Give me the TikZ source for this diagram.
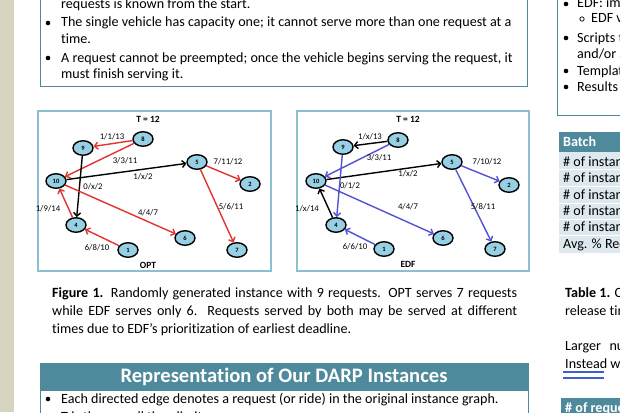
\documentclass[tikz,border=0pt]{standalone}
\usepackage{fontspec}
\setmainfont{Carlito}[Ligatures={NoCommon}]
\usetikzlibrary{arrows.meta,shapes.geometric}
\definecolor{tealbd}{HTML}{4F8A9C}
\definecolor{tealbar}{HTML}{4E8A9B}
\definecolor{figbd}{HTML}{8CBFCF}
\definecolor{nodefill}{HTML}{97D0E4}
\definecolor{redE}{HTML}{E2342F}
\definecolor{blueE}{HTML}{5252D4}
\definecolor{strip}{HTML}{D6D4BE}
\definecolor{rowfill}{HTML}{DDE9EF}
\definecolor{ulblue}{HTML}{3A5FD0}
\begin{document}
\begin{tikzpicture}[x=1pt,y=-1pt,
  body/.style={anchor=base west, inner sep=0pt, font=\fontsize{14.1}{18}\selectfont},
  hdr/.style={anchor=base west, inner sep=0pt, text=white, font=\fontsize{14.1}{18}\selectfont\bfseries},
  vx/.style={ellipse, draw=black, line width=1.4pt, fill=nodefill, minimum width=20pt, minimum height=14.5pt, inner sep=0pt, font=\fontsize{6.5}{7}\selectfont\bfseries},
  lbl/.style={inner sep=0pt, font=\fontsize{8.7}{9}\selectfont},
  ttl/.style={inner sep=0pt, font=\fontsize{9.5}{10}\selectfont\bfseries},
  ed/.style={line width=1.4pt, -{Straight Barb[length=3.5pt,width=7pt]}},
  redg/.style={ed, draw=redE},
  blug/.style={ed, draw=blueE},
  blkg/.style={ed, draw=black},
  boxbd/.style={draw=tealbd, line width=1pt},
  figbox/.style={draw=figbd, line width=1.5pt},
  dot/.style={fill=black}
]
\useasboundingbox (0,0) rectangle (620,412);
\clip (0,0) rectangle (620,412);
\fill[white] (0,0) rectangle (620,412);
\fill[strip] (0,0) rectangle (14,412);

% ---------- top-left box
\draw[boxbd] (40,-5) rectangle (527,86);
\node[body] (t1) at (61,9) {requests is known from the start.};
\fill[dot] (48,23) circle (2.3);
\node[body] (t2) at (61,27) {The single vehicle has capacity one; it cannot serve more than one request at a};
\node[body] (t3) at (61,44) {time.};
\fill[dot] (48,58) circle (2.3);
\node[body] (t4) at (61,62) {A request cannot be preempted; once the vehicle begins serving the request, it};
\node[body] (t5) at (61,78) {must finish serving it.};

% ---------- top-right box
\draw[boxbd] (557,-5) rectangle (630,115);
\fill[dot] (566,4) circle (2.3);
\node[body] (r1) at (577,8) {EDF: implementation};
\draw[line width=0.7pt] (582,19) circle (2.2);
\node[body] (r2) at (591,23) {EDF variants};
\fill[dot] (566,38) circle (2.3);
\node[body] (r3) at (577,42) {Scripts to generate};
\node[body] (r4) at (577,58) {and/or analyse};
\fill[dot] (566,71) circle (2.3);
\node[body] (r5) at (577,75) {Templates for};
\fill[dot] (566,87) circle (2.3);
\node[body] (r6) at (577,91) {Results of runs};

% ---------- figure boxes
\draw[figbox] (38,111) rectangle (271,271);
\draw[figbox] (297,111) rectangle (529,271);

% OPT graph
\node[ttl] (oT) at (148,119) {T = 12};
\node[ttl] (oL) at (148,265) {OPT};
\node[vx] (o8) at (143,139) {8};
\node[vx] (o9) at (83,148) {9};
\node[vx] (o10) at (56,181) {10};
\node[vx] (o5) at (197,162) {5};
\node[vx] (o2) at (250,184) {2};
\node[vx] (o4) at (76,225) {4};
\node[vx] (o6) at (185,238) {6};
\node[vx] (o1) at (128,250) {1};
\node[vx] (o7) at (237,250) {7};
\draw[redg] (o8) -- (o9);
\draw[redg] (o8) -- (o10);
\draw[blkg] (o10) -- (o5);
\draw[blkg] (o9) -- (o4);
\draw[redg] (o5) -- (o2);
\draw[redg] (o5) -- (o7);
\draw[redg] (o10) -- (o6);
\draw[redg] (o4) -- (o10);
\draw[redg] (o1) -- (o4);
\node[lbl] (ol1) at (112,137) {1/1/13};
\node[lbl] (ol2) at (125,161) {3/3/11};
\node[lbl] (ol3) at (143,177) {1/x/2};
\node[lbl] (ol4) at (93,187) {0/x/2};
\node[lbl] (ol5) at (228,162) {7/11/12};
\node[lbl] (ol6) at (231,207) {5/6/11};
\node[lbl] (ol7) at (148,213) {4/4/7};
\node[lbl] (ol8) at (48,209) {1/9/14};
\node[lbl] (ol9) at (97,248) {6/8/10};

% EDF graph
\node[ttl] (eT) at (408,119) {T = 12};
\node[ttl] (eL) at (408,264) {EDF};
\node[vx] (e8) at (398,140) {8};
\node[vx] (e9) at (343,147) {9};
\node[vx] (e10) at (316,181) {10};
\node[vx] (e5) at (452,162) {5};
\node[vx] (e2) at (509,185) {2};
\node[vx] (e4) at (336,225) {4};
\node[vx] (e6) at (443,238) {6};
\node[vx] (e1) at (384,249) {1};
\node[vx] (e7) at (495,249) {7};
\draw[blkg] (e8) -- (e9);
\draw[blug] (e8) -- (e10);
\draw[blkg] (e10) -- (e5);
\draw[blug] (e9) -- (e4);
\draw[blug] (e5) -- (e2);
\draw[blug] (e5) -- (e7);
\draw[blug] (e10) -- (e6);
\draw[blkg] (e4) -- (e10);
\draw[blug] (e1) -- (e4);
\node[lbl] (el1) at (370,137) {1/x/13};
\node[lbl] (el2) at (379,158) {3/3/11};
\node[lbl] (el3) at (408,174) {1/x/2};
\node[lbl] (el4) at (350,186) {0/1/2};
\node[lbl] (el5) at (487,162) {7/10/12};
\node[lbl] (el6) at (483,207) {5/8/11};
\node[lbl] (el7) at (408,207) {4/4/7};
\node[lbl] (el8) at (307,209) {1/x/14};
\node[lbl] (el9) at (355,247) {6/6/10};

% ---------- caption
\node[body, text width=465pt, align=justify] (cap) at (52,297)
  {\textbf{Figure 1.} Randomly generated instance with 9 requests. OPT serves 7 requests\linebreak while EDF serves only 6. Requests served by both may be served at different\linebreak times due to EDF’s prioritization of earliest deadline.};

% ---------- section header
\fill[tealbar] (40,363) rectangle (529,391);
\node[inner sep=0pt, text=white, font=\fontsize{20.6}{22}\selectfont\bfseries] (sec) at (284,377) {Representation of Our DARP Instances};
\draw[boxbd] (40,391) -- (40,430);
\draw[boxbd] (528,391) -- (528,430);
\fill[dot] (48,399) circle (2.3);
\node[body] (b1) at (61,403) {Each directed edge denotes a request (or ride) in the original instance graph.};
\fill[dot] (48,416) circle (2.3);
\node[body] (b2) at (61,421) {T is the overall time limit.};

% ---------- table
\fill[tealbar] (559,132) rectangle (630,152);
\node[hdr] (th) at (563,146) {Batch};
\foreach \a/\b in {152/169,170/186,187/203,204/219,220/235,236/253}{
  \fill[rowfill] (559,\a) rectangle (630,\b);
}
\node[body] (tr1) at (563,166) {\# of instances};
\node[body] (tr2) at (563,182) {\# of instances};
\node[body] (tr3) at (563,199) {\# of instances};
\node[body] (tr4) at (563,215) {\# of instances};
\node[body] (tr5) at (563,231) {\# of instances};
\node[body] (tr6) at (563,248) {Avg. \% Requests};

\node[body] (tc1) at (565,297) {\textbf{Table 1.} Comparison};
\node[body] (tc2) at (565,315) {release times};
\node[body] (tc3) at (565,350) {Larger\hspace{0.6em}numbers};
\node[body] (tc4) at (565,368) {Instead we};
\draw[ulblue, line width=1.5pt] (563,372) -- (604,372);
\draw[ulblue, line width=1.5pt] (563,378) -- (604,378);
\fill[tealbar] (561,398) rectangle (630,420);
\node[hdr] (bh) at (565,412) {\# of requests};
\end{tikzpicture}
\end{document}
